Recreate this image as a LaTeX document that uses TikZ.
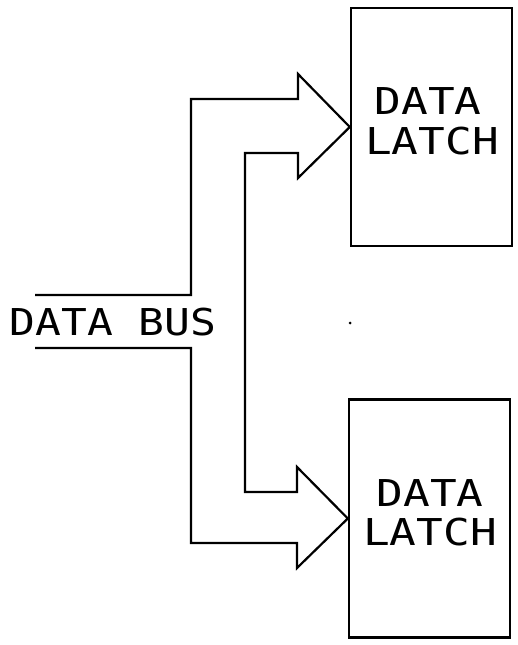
\documentclass[tikz,border=0pt]{standalone}
\usepackage{fontspec}
\newfontfamily\plotfont{DejaVu Sans Mono}
\begin{document}
\begin{tikzpicture}[x=1pt,y=-1pt,
  wire/.style={line width=2.2pt, line join=miter},
  latchbox/.style={draw, line width=2.4pt, minimum width=161pt, minimum height=238pt, inner sep=0pt},
  boxtext/.style={font=\plotfont\fontsize{37}{30}\selectfont, align=center, inner sep=0pt}]
\useasboundingbox (0,0) rectangle (518,645);
\node[latchbox] (latch1) at (431.5,127) {};
\node[latchbox] (latch2) at (429.5,518.5) {};
\node[boxtext] (t1) at (428,101) {\scalebox{1.2}[1]{DATA}};
\node[boxtext] (t1b) at (432,141) {\scalebox{1.2}[1]{LATCH}};
\node[boxtext] (t2) at (430,493) {\scalebox{1.2}[1]{DATA}};
\node[boxtext] (t2b) at (430,532) {\scalebox{1.2}[1]{LATCH}};
\node[boxtext] (bus) at (113,322) {\scalebox{1.16}[1]{DATA BUS}};
\coordinate (b1) at (35,295);
\coordinate (b2) at (35,348);
\draw[wire] (b1) -- (191,295) -- (191,99) -- (298,99) -- (298,74) -- (latch1.west)
  -- (298,178) -- (298,153) -- (245,153) -- (245,492) -- (297,492) -- (297,467)
  -- (latch2.west) -- (297,568) -- (297,543) -- (191,543) -- (191,348) -- (b2);
\fill (350,323) circle (1.5pt);
\end{tikzpicture}
\end{document}
